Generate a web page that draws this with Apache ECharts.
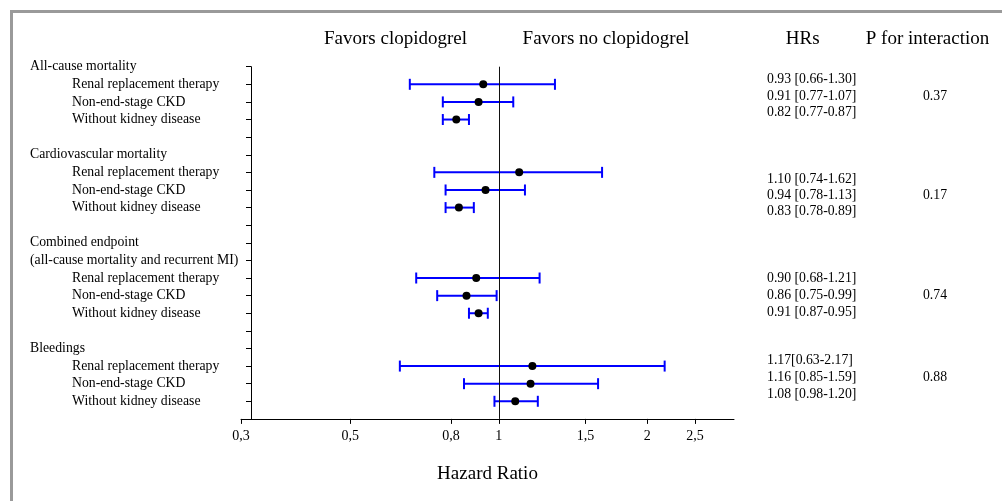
<!DOCTYPE html>
<html><head><meta charset="utf-8">
<script src="https://cdn.jsdelivr.net/npm/echarts@6/dist/echarts.min.js"></script>
<style>html,body{margin:0;padding:0;background:#fff}#c{width:1002px;height:501px}</style>
</head><body><div id="c"></div>
<script>
const rowLabels = [
  'All-cause mortality','Renal replacement therapy','Non-end-stage CKD','Without kidney disease','',
  'Cardiovascular mortality','Renal replacement therapy','Non-end-stage CKD','Without kidney disease','',
  'Combined endpoint','(all-cause mortality and recurrent MI)','Renal replacement therapy','Non-end-stage CKD','Without kidney disease','',
  'Bleedings','Renal replacement therapy','Non-end-stage CKD','Without kidney disease'
];
const rowIsHeader = [1,0,0,0,1, 1,0,0,0,1, 1,1,0,0,0,1, 1,0,0,0];
const hr    = [null,0.93,0.91,0.82,null, null,1.10,0.94,0.83,null, null,null,0.90,0.86,0.91,null, null,1.17,1.16,1.08];
const lower = [null,0.66,0.77,0.77,null, null,0.74,0.78,0.78,null, null,null,0.68,0.75,0.87,null, null,0.63,0.85,0.98];
const upper = [null,1.30,1.07,0.87,null, null,1.62,1.13,0.89,null, null,null,1.21,0.99,0.95,null, null,2.17,1.59,1.20];
const xTicks = [0.3,0.5,0.8,1,1.5,2,2.5];
const hrText = [
  '0.93 [0.66-1.30]','0.91 [0.77-1.07]','0.82 [0.77-0.87]',
  '1.10 [0.74-1.62]','0.94 [0.78-1.13]','0.83 [0.78-0.89]',
  '0.90 [0.68-1.21]','0.86 [0.75-0.99]','0.91 [0.87-0.95]',
  '1.17[0.63-2.17]','1.16 [0.85-1.59]','1.08 [0.98-1.20]'
];
const pText = ['0.37','0.17','0.74','0.88'];
const headers = ['Favors clopidogrel','Favors no clopidogrel','HRs','P for interaction'];

// layout (styling only)
const FONT = "'Liberation Serif','Times New Roman',serif";
const hrTextY = [79,96,112.7, 179,195.7,211.7, 278.5,295,312.3, 360.3,377.3,394.7];
const pY = [96,195.7,295,377.3];
const headerX = [395.5,606,802.7,927.5];

const intervals = [], points = [];
hr.forEach((v,i)=>{ if(v!=null){ intervals.push([lower[i],upper[i],i]); points.push([v,i]); } });

const graphics = [
  {type:'rect', shape:{x:11.5,y:11.5,width:1100,height:600}, style:{fill:'none',stroke:'#9a9a9a',lineWidth:3}, z:-1}
];
headers.forEach((h,i)=>graphics.push({type:'text', x:headerX[i], y:39,
  style:{text:h, font:'19px '+FONT, fill:'#000', textAlign:'center', textVerticalAlign:'middle'}}));
hrText.forEach((t,i)=>graphics.push({type:'text', x:767, y:hrTextY[i],
  style:{text:t, font:'13.75px '+FONT, fill:'#000', textAlign:'left', textVerticalAlign:'middle'}}));
pText.forEach((t,i)=>graphics.push({type:'text', x:935, y:pY[i],
  style:{text:t, font:'13.75px '+FONT, fill:'#000', textAlign:'center', textVerticalAlign:'middle'}}));

const chart = echarts.init(document.getElementById('c'));
chart.setOption({
  animation:false,
  backgroundColor:'#fff',
  grid:{left:241, width:493, top:66.7, bottom:82.1},
  xAxis:{
    type:'log', logBase:10, min:0.3, max:3, position:'bottom',
    name:'Hazard Ratio', nameLocation:'middle', nameGap:46,
    nameTextStyle:{fontSize:19, fontFamily:FONT, color:'#000'},
    axisLine:{onZero:false, lineStyle:{color:'#000',width:1}},
    axisTick:{show:true, inside:false, length:5, customValues:xTicks, lineStyle:{color:'#000'}},
    axisLabel:{customValues:xTicks, margin:10, fontSize:14, fontFamily:FONT, color:'#000',
      formatter:v=>String(+(+v).toFixed(2)).replace('.',',')},
    splitLine:{show:false}, minorTick:{show:false}
  },
  yAxis:{
    type:'value', min:0, max:20, interval:1, inverse:true, offset:-10,
    axisLine:{show:true, onZero:false, lineStyle:{color:'#000',width:1}},
    axisTick:{show:true, length:5, lineStyle:{color:'#000'}},
    splitLine:{show:false},
    axisLabel:{align:'left', margin:221,
      formatter:v=>{const l=rowLabels[v]; if(!l) return ''; return rowIsHeader[v]?'{h|'+l+'}':'{s|'+l+'}';},
      rich:{h:{fontSize:13.75,fontFamily:FONT,color:'#000'}, s:{fontSize:13.75,fontFamily:FONT,color:'#000',padding:[0,0,0,42]}}}
  },
  series:[
    {type:'custom', data:intervals, z:2,
      renderItem:(params,api)=>{
        const a=api.coord([api.value(0),api.value(2)]);
        const b=api.coord([api.value(1),api.value(2)]);
        const st={stroke:'#0000ff',lineWidth:2};
        return {type:'group',children:[
          {type:'line',shape:{x1:a[0],y1:a[1],x2:b[0],y2:b[1]},style:st},
          {type:'line',shape:{x1:a[0],y1:a[1]-5.5,x2:a[0],y2:a[1]+5.5},style:st},
          {type:'line',shape:{x1:b[0],y1:b[1]-5.5,x2:b[0],y2:b[1]+5.5},style:st}
        ]};
      },
      encode:{x:[0,1],y:2}
    },
    {type:'scatter', data:points, symbol:'circle', symbolSize:8, z:3,
      itemStyle:{color:'#000', opacity:1},
      markLine:{silent:true, symbol:'none', label:{show:false},
        lineStyle:{color:'#111',width:1,type:'solid'}, data:[{xAxis:1}]}
    }
  ],
  graphic:graphics
});
</script>
</body></html>
